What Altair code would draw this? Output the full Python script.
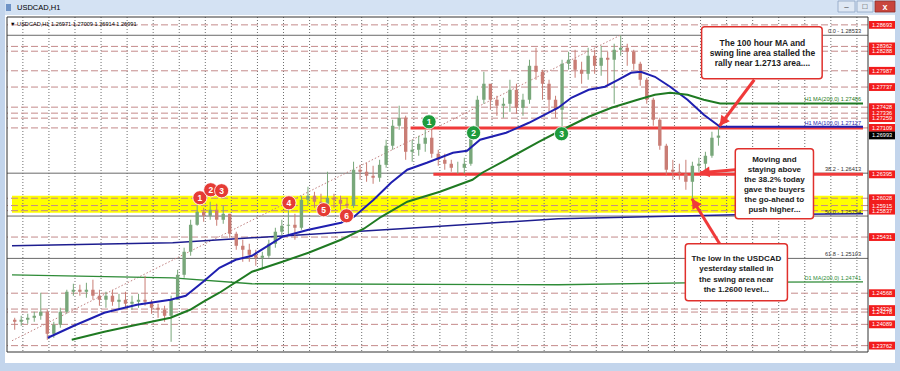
import math
import altair as alt
import pandas as pd

# ---------------- values ----------------
PAIR = "USDCAD,H1"
last_bar_ohlc = [1.26971, 1.27009, 1.26914, 1.26991]

BARS_PER_CANDLE = 6          # each drawn candle summarises 6 H1 bars
first_open = 1.24160
candle_high = [
    1.24190, 1.24221, 1.24252, 1.24283, 1.24575, 1.24313, 1.24129, 1.24344, 1.24621, 1.24713,
    1.24698, 1.24728, 1.24775, 1.24621, 1.24590, 1.24621, 1.24559, 1.24590, 1.24529, 1.24559,
    1.24836, 1.24467, 1.24406, 1.24375, 1.24529, 1.24928, 1.25267, 1.25697, 1.25912, 1.25881,
    1.25974, 1.25943, 1.25912, 1.25789, 1.25513, 1.25390, 1.25328, 1.25236, 1.25205, 1.25390,
    1.25574, 1.25697, 1.25912, 1.25789, 1.26066, 1.26204, 1.26127, 1.26097, 1.26435, 1.26097,
    1.26066, 1.26035, 1.26589, 1.26542, 1.26573, 1.26527, 1.26619, 1.26927, 1.27234, 1.27450,
    1.27296, 1.26927, 1.26988, 1.27081, 1.27142, 1.26773, 1.26712, 1.26619, 1.26589, 1.26650,
    1.27111, 1.27603, 1.27972, 1.27726, 1.27603, 1.27572, 1.27849, 1.27788, 1.27634, 1.28157,
    1.28341, 1.28003, 1.27849, 1.27603, 1.28157, 1.28280, 1.28310, 1.28126, 1.28341, 1.28310,
    1.28372, 1.28280, 1.28403, 1.28533, 1.28403, 1.28310, 1.28126, 1.27880, 1.27572, 1.27265,
    1.26865, 1.26619, 1.26558, 1.26619, 1.26589, 1.26650, 1.26742, 1.27050, 1.27127]
candle_low = [
    1.24006, 1.24067, 1.24098, 1.24129, 1.24160, 1.23852, 1.23883, 1.24037, 1.24252, 1.24529,
    1.24529, 1.24498, 1.24467, 1.24375, 1.24344, 1.24375, 1.24313, 1.24344, 1.24313, 1.24344,
    1.24375, 1.24252, 1.24190, 1.24129, 1.23821, 1.24467, 1.24805, 1.25144, 1.25605, 1.25666,
    1.25697, 1.25605, 1.25635, 1.25420, 1.25236, 1.25051, 1.25051, 1.24990, 1.24928, 1.25113,
    1.25267, 1.25451, 1.25451, 1.25390, 1.25543, 1.25912, 1.25881, 1.25820, 1.25851, 1.25881,
    1.25851, 1.25820, 1.25881, 1.26312, 1.26281, 1.26250, 1.26281, 1.26496, 1.26773, 1.27081,
    1.26619, 1.26589, 1.26681, 1.26742, 1.26650, 1.26527, 1.26466, 1.26435, 1.26404, 1.26404,
    1.26527, 1.27019, 1.27480, 1.27388, 1.27296, 1.27265, 1.27357, 1.27326, 1.27296, 1.27480,
    1.27849, 1.27542, 1.27357, 1.27265, 1.27111, 1.28003, 1.27880, 1.27788, 1.27849, 1.27941,
    1.27911, 1.27757, 1.27480, 1.28218, 1.28064, 1.28003, 1.27757, 1.27480, 1.27142, 1.26773,
    1.26373, 1.26312, 1.26312, 1.26158, 1.26010, 1.26435, 1.26466, 1.26650, 1.26835]
candle_close = [
    1.24129, 1.24160, 1.24190, 1.24221, 1.24283, 1.23944, 1.24083, 1.24283, 1.24590, 1.24621,
    1.24590, 1.24621, 1.24529, 1.24467, 1.24529, 1.24436, 1.24467, 1.24406, 1.24436, 1.24467,
    1.24436, 1.24344, 1.24313, 1.24221, 1.24467, 1.24851, 1.25205, 1.25620, 1.25820, 1.25758,
    1.25851, 1.25697, 1.25789, 1.25482, 1.25297, 1.25236, 1.25159, 1.25113, 1.25144, 1.25328,
    1.25513, 1.25605, 1.25620, 1.25574, 1.26004, 1.26066, 1.25974, 1.25943, 1.26035, 1.26004,
    1.25943, 1.25912, 1.26466, 1.26435, 1.26373, 1.26343, 1.26542, 1.26835, 1.27142, 1.27265,
    1.26742, 1.26773, 1.26865, 1.26958, 1.26712, 1.26619, 1.26558, 1.26496, 1.26496, 1.26558,
    1.27050, 1.27542, 1.27788, 1.27542, 1.27450, 1.27480, 1.27695, 1.27419, 1.27542, 1.28064,
    1.27972, 1.27788, 1.27542, 1.27388, 1.28095, 1.28157, 1.28003, 1.27941, 1.28218, 1.28064,
    1.28187, 1.28157, 1.28310, 1.28341, 1.28280, 1.28095, 1.27849, 1.27542, 1.27234, 1.26835,
    1.26466, 1.26435, 1.26404, 1.26281, 1.26527, 1.26558, 1.26681, 1.26958, 1.26991]

time_tick_bars = [0, 31, 63, 95, 127, 159, 191, 223, 255, 287, 319, 351, 383, 415, 447,
                  479, 511, 543, 575, 607, 639]
time_tick_labels = ["2 Nov 2021", "3 Nov 22:00", "5 Nov 06:00", "8 Nov 14:00", "9 Nov 22:00",
                    "11 Nov 06:00", "12 Nov 14:00", "15 Nov 22:00", "17 Nov 06:00", "18 Nov 14:00",
                    "19 Nov 22:00", "23 Nov 08:00", "24 Nov 16:00", "26 Nov 00:00", "29 Nov 08:00",
                    "30 Nov 16:00", "2 Dec 00:00", "3 Dec 08:00", "6 Dec 16:00", "8 Dec 00:00",
                    "9 Dec 08:00"]
grid_bars = [10, 34, 58, 82, 106, 130, 154, 178, 202, 226, 250, 274, 298, 322, 346, 370, 394,
             418, 442, 466, 490, 514, 538, 562, 586, 610, 634, 658, 682, 706, 730, 754, 778]
price_ticks = [1.28125, 1.27845, 1.27565, 1.26730, 1.26170, 1.25610, 1.25330, 1.25050,
               1.24775, 1.24495, 1.24215, 1.23940, 1.23660]

h1_ma100_bar = [33, 57, 85, 115, 146, 160, 176, 191, 206, 221, 249, 273, 303, 315, 333, 349, 364,
                382, 406, 419, 431, 455, 476, 503, 515, 531, 546, 558, 570, 579, 592, 606, 622,
                637, 652, 783.6]
h1_ma100 = [1.23883, 1.24067, 1.24267, 1.24390, 1.24467, 1.24529, 1.24744, 1.24959, 1.25082,
            1.25144, 1.25436, 1.25543, 1.25651, 1.25743, 1.26004, 1.26266, 1.26466, 1.26573,
            1.26727, 1.26758, 1.26927, 1.27034, 1.27188, 1.27419, 1.27572, 1.27695, 1.27742,
            1.27849, 1.27957, 1.27972, 1.27895, 1.27742, 1.27542, 1.27311, 1.27127, 1.27127]
h1_ma200_bar = [55, 85, 115, 146, 164, 176, 191, 221, 249, 273, 303, 324, 340, 364, 394, 424, 433,
                455, 485, 503, 531, 552, 576, 592, 606, 622, 637, 652, 783.6]
h1_ma200 = [1.23852, 1.23975, 1.24083, 1.24190, 1.24313, 1.24436, 1.24575, 1.24898, 1.25051,
            1.25190, 1.25390, 1.25559, 1.25743, 1.25974, 1.26127, 1.26312, 1.26420, 1.26619,
            1.26896, 1.27050, 1.27280, 1.27419, 1.27542, 1.27619, 1.27649, 1.27619, 1.27542,
            1.27486, 1.27486]
d1_ma100_bar = [0, 148, 221, 358, 503, 667, 783.6]
d1_ma100 = [1.25297, 1.25343, 1.25420, 1.25559, 1.25712, 1.25774, 1.25789]
d1_ma200_bar = [0, 148, 221, 503, 652, 783.6]
d1_ma200 = [1.24851, 1.24805, 1.24713, 1.24698, 1.24735, 1.24741]

hline_prices = [1.28693, 1.28362, 1.28288, 1.27987, 1.27737, 1.27428, 1.27336, 1.27259, 1.27109,
                1.26028, 1.25915, 1.25837, 1.25431, 1.24568, 1.24324, 1.24278, 1.24089, 1.23762]
price_tags = [1.28693, 1.28362, 1.28288, 1.27987, 1.27737, 1.27428, 1.27336, 1.27259, 1.27109,
              1.26395, 1.26028, 1.25915, 1.25837, 1.25431, 1.24568, 1.24324, 1.24278, 1.24089,
              1.23762]
current_price = 1.26993

fib_levels = ["0.0", "38.2", "50.0", "61.8"]
fib_prices = [1.28533, 1.26413, 1.25754, 1.25103]
fib_trend_bars = [0, 560]
fib_trend_prices = [1.23837, 1.28533]

swing_prices = [1.27109, 1.26395]
swing_start_bars = [367, 388]
zone_top, zone_bottom = 1.26066, 1.25805

h1_ma_labels = ["H1 MA(200,0) 1.27486", "H1 MA(100,0) 1.27127"]
h1_ma_label_prices = [1.27486, 1.27127]
d1_ma_label = "D1 MA(200,0) 1.24741"
d1_ma_label_price = 1.24741

red_marks = ["1", "2", "3", "4", "5", "6"]
red_mark_bars = [173, 183, 193, 255, 287, 308]
red_mark_prices = [1.26035, 1.26158, 1.26143, 1.25958, 1.25851, 1.25758]
green_marks = ["1", "2", "3"]
green_mark_bars = [384, 425, 506]
green_mark_prices = [1.27203, 1.27034, 1.27019]

callout_lines = [
    ["The 100 hour MA and", "swing line area stalled the", "rally near 1.2713 area...."],
    ["Moving and", "staying above", "the 38.2% today", "gave the buyers", "the go-ahead to",
     "push higher..."],
    ["The low in the USDCAD", "yesterday stalled in", "the swing area near", "the 1.2600 level..."],
]
callout_line_prices = [
    [1.28418, 1.28264, 1.28110],
    [1.26619, 1.26466, 1.26312, 1.26158, 1.26004, 1.25851],
    [1.25097, 1.24936, 1.24775, 1.24613],
]
callout_text_bar = [691, 702, 667]
callout_font = [8.5, 8, 8]
box_bar_left = [635, 666, 620]
box_bar_right = [746, 738, 714]
box_price_top = [1.28664, 1.26788, 1.25328]
box_price_bottom = [1.27865, 1.25712, 1.24452]
arrow_from_bar = [683.5, 666, 651.6]
arrow_from_price = [1.27849, 1.26466, 1.25328]
arrow_to_bar = [651.6, 633.4, 626.1]
arrow_to_price = [1.27142, 1.26420, 1.26020]

# ---------------- layout ----------------
W, H = 861, 335
BAR_END = 783.6
P_LO, P_HI = 1.23664, 1.28814
FONT = "Liberation Sans"
UP, DN = "#78a77a", "#c97d75"
RED = "#f03a3a"
BLUE = "#1f1fb0"
GREEN = "#1f7a22"

xs = alt.Scale(domain=[0, BAR_END], nice=False, zero=False)
ys = alt.Scale(domain=[P_LO, P_HI], nice=False, zero=False)


def X(f):
    return alt.X(f, type="quantitative", scale=xs, axis=None, title=None)


def Y(f):
    return alt.Y(f, type="quantitative", scale=ys, axis=None, title=None)


one = pd.DataFrame({"k": [0]})


def deco_rect(x, x2, y, y2, color, **kw):
    return alt.Chart(one).mark_rect(color=color, **kw).encode(
        x=alt.value(x), x2=alt.value(x2), y=alt.value(y), y2=alt.value(y2))


def deco_text(x, y, txt, **kw):
    return alt.Chart(one).mark_text(**kw).encode(x=alt.value(x), y=alt.value(y), text=alt.value(txt))


# candles
rows = []
prev = first_open
for g, (h, l, c) in enumerate(zip(candle_high, candle_low, candle_close)):
    rows.append({"bar": g * BARS_PER_CANDLE + (BARS_PER_CANDLE - 1) / 2, "open": prev,
                 "high": h, "low": l, "close": c, "up": c >= prev})
    prev = c
cdf = pd.DataFrame(rows)
up_df = cdf[cdf["up"]]
dn_df = cdf[~cdf["up"]]

labels_js = "[" + ",".join("'" + s + "'" for s in time_tick_labels) + "]"
bars_js = "[" + ",".join(str(b) for b in time_tick_bars) + "]"
x_axis = alt.Axis(values=time_tick_bars, labelExpr=f"{labels_js}[indexof({bars_js}, datum.value)]",
                  orient="bottom", tickSize=2, labelAlign="left", labelBaseline="top",
                  labelFontSize=5.8, labelFont=FONT, labelColor="#000", labelPadding=0,
                  domainColor="#000", tickColor="#000", grid=False, labelOverlap=False,
                  labelFlush=False, labelBound=False, title=None)
y_axis = alt.Axis(values=price_ticks, format=".5f", orient="right", tickSize=3, labelFontSize=6,
                  labelFont=FONT, labelColor="#000", labelPadding=1, domainColor="#000",
                  tickColor="#000", grid=False, labelOverlap=False, title=None)

axes_layer = alt.Chart(cdf).mark_rule(opacity=0).encode(
    x=alt.X("bar:Q", scale=xs, axis=x_axis, title=None),
    y=alt.Y("low:Q", scale=ys, axis=y_axis, title=None))


def candle_layers(df, color):
    wick = alt.Chart(df).mark_rule(strokeWidth=1, color=color).encode(
        x=X("bar"), y=Y("low"), y2="high")
    body = alt.Chart(df).mark_bar(size=3.4, color=color).encode(x=X("bar"), y=Y("open"), y2="close")
    return [wick, body]


# frame decorations (window chrome)
frame = [
    deco_rect(-7, 893, -17, -2, "#d4e2f3"),
    deco_rect(-7, -2, -17, 354, "#c3d5ec"),
    deco_rect(888, 893, -17, 354, "#c3d5ec"),
    deco_rect(-7, 893, 346, 354, "#c3d5ec"),
    deco_rect(-1, 4, -13, -6, "#6f93c6"),
    deco_text(10, -9.5, PAIR, align="left", baseline="middle", fontSize=7.5, font=FONT, color="#000"),
    deco_rect(831, 848, -16, -5, "#dfe8f4", stroke="#8aa2c2", strokeWidth=0.8),
    deco_rect(850, 866, -16, -5, "#dfe8f4", stroke="#8aa2c2", strokeWidth=0.8),
    deco_rect(868, 888, -16, -5, "#c8453d", stroke="#8a2e2a", strokeWidth=0.8),
    deco_text(839.5, -10.5, "–", align="center", baseline="middle", fontSize=8, font=FONT, color="#333"),
    deco_text(858, -10.5, "□", align="center", baseline="middle", fontSize=8, font=FONT, color="#333"),
    deco_text(878, -10.5, "x", align="center", baseline="middle", fontSize=9, font=FONT,
              color="#fff", fontWeight="bold"),
]

zone = alt.Chart(pd.DataFrame({"x1": [0], "x2": [BAR_END], "t": [zone_top], "b": [zone_bottom]})) \
    .mark_rect(color="#ffff00").encode(x=X("x1"), x2="x2", y=Y("t"), y2="b")
grid = alt.Chart(pd.DataFrame({"bar": grid_bars})).mark_rule(
    color="#6e6e6e", strokeDash=[1, 2], strokeWidth=1).encode(x=X("bar"))
hlines = alt.Chart(pd.DataFrame({"p": hline_prices})).mark_rule(
    color="#c48a8a", strokeDash=[7, 3], strokeWidth=1).encode(y=Y("p"))
fibs = alt.Chart(pd.DataFrame({"p": fib_prices})).mark_rule(color="#6a6a6a", strokeWidth=1).encode(y=Y("p"))
fib_trend = alt.Chart(pd.DataFrame({"bar": fib_trend_bars, "p": fib_trend_prices})).mark_line(
    color="#c07f7f", strokeDash=[1.5, 2], strokeWidth=1).encode(x=X("bar"), y=Y("p"))
fib_text = alt.Chart(pd.DataFrame({"bar": [BAR_END] * 4, "p": fib_prices,
                                   "t": [f"{l} - {p:.5f}" for l, p in zip(fib_levels, fib_prices)]})) \
    .mark_text(align="right", baseline="bottom", dx=-2, dy=-1, fontSize=5.6, font=FONT, color="#333") \
    .encode(x=X("bar"), y=Y("p"), text="t:N")

d1_100 = alt.Chart(pd.DataFrame({"bar": d1_ma100_bar, "p": d1_ma100})).mark_line(
    color="#1d1d8f", strokeWidth=1.5).encode(x=X("bar"), y=Y("p"))
d1_200 = alt.Chart(pd.DataFrame({"bar": d1_ma200_bar, "p": d1_ma200})).mark_line(
    color="#2e8b37", strokeWidth=1.3).encode(x=X("bar"), y=Y("p"))
swings = alt.Chart(pd.DataFrame({"b": swing_start_bars, "e": [BAR_END] * 2, "p": swing_prices})) \
    .mark_rule(color=RED, strokeWidth=3).encode(x=X("b"), x2="e", y=Y("p"))

ma100 = alt.Chart(pd.DataFrame({"bar": h1_ma100_bar, "p": h1_ma100})).mark_line(
    color=BLUE, strokeWidth=2).encode(x=X("bar"), y=Y("p"))
ma200 = alt.Chart(pd.DataFrame({"bar": h1_ma200_bar, "p": h1_ma200})).mark_line(
    color=GREEN, strokeWidth=2).encode(x=X("bar"), y=Y("p"))


def ma_label(txt, price, color):
    return alt.Chart(pd.DataFrame({"bar": [BAR_END], "p": [price], "t": [txt]})) \
        .mark_text(align="right", baseline="bottom", dx=-2, dy=-1, fontSize=5.6, font=FONT, color=color) \
        .encode(x=X("bar"), y=Y("p"), text="t:N")


ma_texts = [ma_label(h1_ma_labels[0], h1_ma_label_prices[0], GREEN),
            ma_label(h1_ma_labels[1], h1_ma_label_prices[1], BLUE),
            ma_label(d1_ma_label, d1_ma_label_price, "#2e8b37")]


# numbered markers
def marker_layers(labels, bars, prices, color):
    df = pd.DataFrame({"bar": bars, "p": prices, "t": labels})
    dots = alt.Chart(df).mark_point(shape="circle", filled=True, size=200, opacity=1, color=color,
                                    stroke="#ffffff", strokeWidth=0.8).encode(x=X("bar"), y=Y("p"))
    txt = alt.Chart(df).mark_text(fontSize=8.5, fontWeight="bold", font=FONT, color="#fff",
                                  baseline="middle", align="center", dy=0.5).encode(
        x=X("bar"), y=Y("p"), text="t:N")
    return [dots, txt]


markers = marker_layers(red_marks, red_mark_bars, red_mark_prices, "#e53b35") + \
    marker_layers(green_marks, green_mark_bars, green_mark_prices, "#1e9b3c")

# callouts
boxes = alt.Chart(pd.DataFrame({"l": box_bar_left, "r": box_bar_right, "t": box_price_top,
                                "b": box_price_bottom})) \
    .mark_rect(fill="#ffffff", stroke="#e0302c", strokeWidth=1.5, cornerRadius=3) \
    .encode(x=X("l"), x2="r", y=Y("t"), y2="b")
ctexts = []
for i, lines in enumerate(callout_lines):
    df = pd.DataFrame({"bar": [callout_text_bar[i]] * len(lines), "p": callout_line_prices[i], "t": lines})
    ctexts.append(alt.Chart(df).mark_text(font=FONT, fontWeight="bold", color="#1b1b1b",
                                          fontSize=callout_font[i], align="center",
                                          baseline="middle").encode(x=X("bar"), y=Y("p"), text="t:N"))

px_bar = W / BAR_END
px_price = H / (P_HI - P_LO)
angles = []
for b1, p1, b2, p2 in zip(arrow_from_bar, arrow_from_price, arrow_to_bar, arrow_to_price):
    dx = (b2 - b1) * px_bar
    dy = -(p2 - p1) * px_price
    angles.append(math.degrees(math.atan2(dx, -dy)) % 360)
adf = pd.DataFrame({"b1": arrow_from_bar, "p1": arrow_from_price, "b2": arrow_to_bar,
                    "p2": arrow_to_price, "ang": angles})
shafts = alt.Chart(adf).mark_rule(color=RED, strokeWidth=3).encode(x=X("b1"), y=Y("p1"), x2="b2", y2="p2")
heads = alt.Chart(adf).mark_point(shape="M0,0L0.55,1L-0.55,1Z", filled=True, size=380, opacity=1,
                                  color=RED).encode(
    x=X("b2"), y=Y("p2"), angle=alt.Angle("ang:Q", scale=None))

# price tags on the right axis
tag_shape = "M-1,-0.3L1,-0.3L1,0.3L-1,0.3Z"
tags = pd.DataFrame({"p": price_tags, "t": [f"{p:.5f}" for p in price_tags]})
tag_box = alt.Chart(tags).mark_point(shape=tag_shape, filled=True, size=676, opacity=1,
                                     color="#f21c1c").encode(x=alt.value(875), y=Y("p"))
tag_txt = alt.Chart(tags).mark_text(fontSize=5.6, font=FONT, color="#fff", align="center",
                                    baseline="middle").encode(x=alt.value(875), y=Y("p"), text="t:N")
cur = pd.DataFrame({"p": [current_price], "t": [f"{current_price:.5f}"]})
cur_box = alt.Chart(cur).mark_point(shape=tag_shape, filled=True, size=676, opacity=1,
                                    color="#000").encode(x=alt.value(875), y=Y("p"))
cur_txt = alt.Chart(cur).mark_text(fontSize=5.6, font=FONT, color="#fff", align="center",
                                   baseline="middle").encode(x=alt.value(875), y=Y("p"), text="t:N")

info = "\u25BC " + PAIR + "  " + " ".join(f"{v:.5f}" for v in last_bar_ohlc)
info_txt = deco_text(3, 6.5, info, align="left", baseline="middle", fontSize=5.6, font=FONT, color="#000")
border = alt.Chart(one).mark_rect(fillOpacity=0, stroke="#333333", strokeWidth=1).encode(
    x=alt.value(0), x2=alt.value(W), y=alt.value(0), y2=alt.value(H))

chart = alt.layer(
    *frame, zone, grid, hlines, fibs, fib_trend, d1_100, d1_200, swings, axes_layer,
    *candle_layers(up_df, UP), *candle_layers(dn_df, DN), ma100, ma200, fib_text, *ma_texts,
    *markers, shafts, heads, boxes, *ctexts, info_txt, border, tag_box, tag_txt, cur_box, cur_txt
).properties(
    width=W, height=H,
    padding={"left": 7, "top": 17, "right": 32, "bottom": 19},
    autosize=alt.AutoSizeParams(type="none"),
    background="#ffffff",
).configure_view(strokeWidth=0)

chart.save("out.html", embed_options={"renderer": "svg", "actions": False})
